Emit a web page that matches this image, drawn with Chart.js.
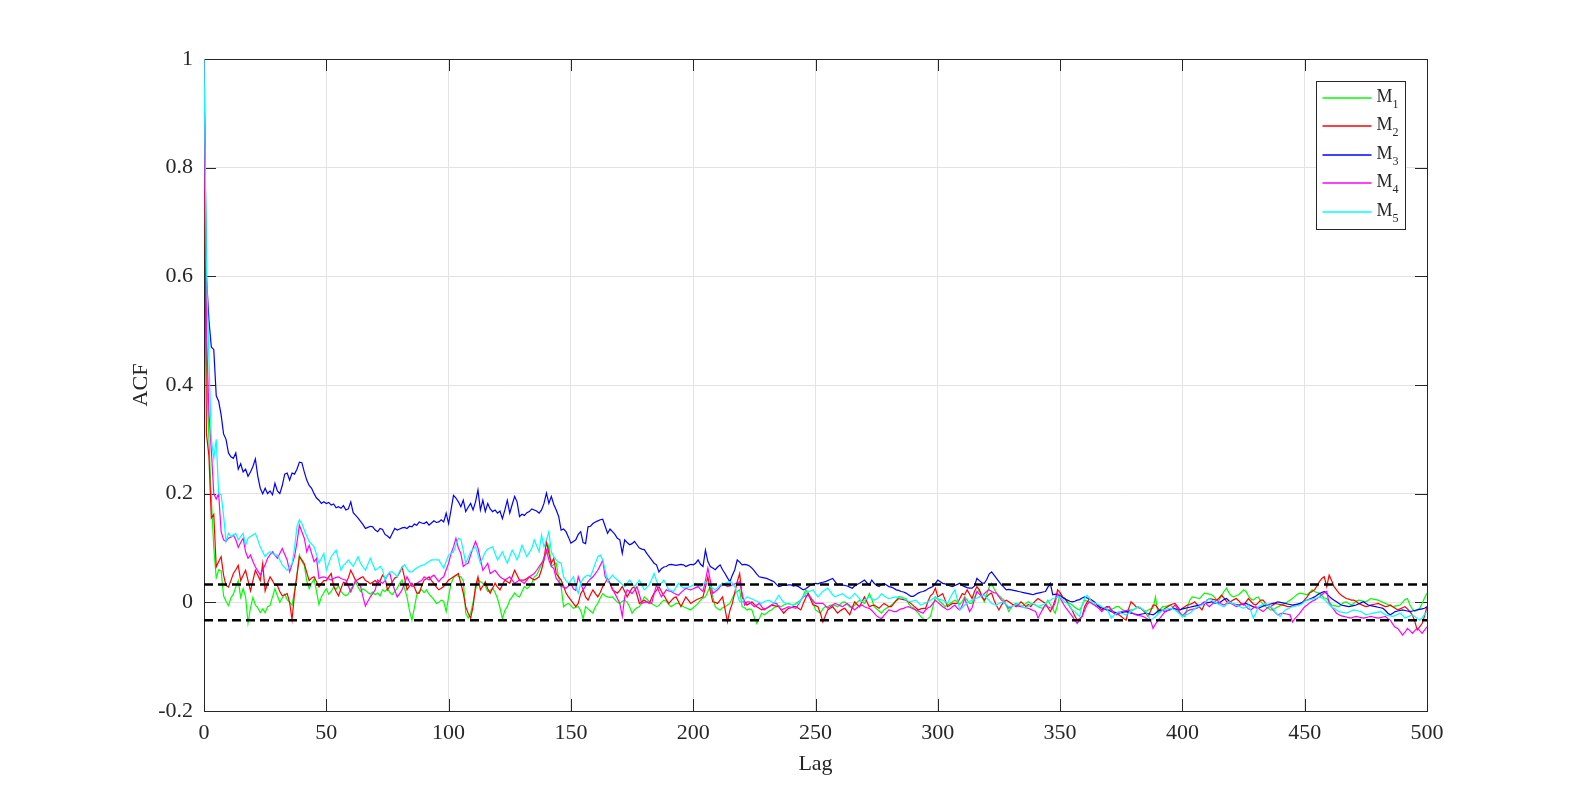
<!DOCTYPE html>
<html>
<head>
<meta charset="utf-8">
<title>ACF</title>
<script src="https://cdn.jsdelivr.net/npm/chart.js@4.4.1/dist/chart.umd.min.js"></script>
<style>
  html, body { margin: 0; padding: 0; background: #ffffff; }
  #wrap { width: 1578px; height: 800px; }
</style>
</head>
<body>
<div id="wrap"><canvas id="c" width="1578" height="800"></canvas></div>
<script>
// ---------------- data ----------------
const seriesNames = ['M1', 'M2', 'M3', 'M4', 'M5'];
const seriesColors = ['#00ff00', '#ff0000', '#0000ff', '#ff00ff', '#00ffff'];
const xTickStep = 50;
const yTickStep = 0.2;
const ciBound = 0.033;          // dashed confidence band
const ciLags = [0, 500];

// lag categories 0..500 (integer indices, not estimated values)
const lags = Array.from({ length: 501 }, (_, i) => i);

const m1 = [
1,.45,.3,.19,.1,.045,.06,.058,.012,.002,
-.006,.008,.015,.028,.04,.009,.025,.01,-.038,-.01,
.009,-.005,-.01,-.019,-.012,-.019,-.008,-.006,.01,.025,
.012,0,.008,.015,.005,0,-.005,.02,.05,.087,
.075,.068,.04,.025,.035,.043,.02,-.004,.01,.018,
.025,.015,.02,.028,.024,.031,.02,.015,.012,.015,
.025,.03,.037,.028,.02,.025,.022,.018,.015,.019,
.014,.017,.012,.023,.02,.025,.018,.014,.02,.026,
.035,.041,.025,.01,-.015,-.033,-.01,.014,.02,.023,
.018,.023,.015,.01,.005,-.002,0,.004,.002,-.017,
.01,.035,.045,.05,.048,.047,.04,-.02,-.029,-.02,
0,.023,.041,.038,.035,.03,.02,.022,.026,.018,
.007,-.01,-.03,-.015,-.008,.004,.01,.017,.012,.01,
.02,.029,.025,.029,.035,.047,.05,.06,.07,.084,
.09,.105,.066,.07,.072,.045,.029,-.008,-.004,-.002,
-.006,-.011,-.009,-.008,-.015,-.03,-.008,-.012,-.016,-.02,
-.008,-.002,.008,.016,.012,.01,.009,.01,.005,0,
-.002,.002,.004,0,-.008,-.02,-.014,-.01,-.008,0,
.01,.006,.002,-.002,-.005,-.008,-.006,0,.004,.002,
-.004,-.008,-.005,-.002,-.002,-.005,-.008,-.01,-.012,-.014,
-.01,-.006,-.002,.004,.008,.01,.02,.029,.01,-.008,
-.012,-.014,-.01,-.008,-.005,-.002,.008,.016,.02,.023,
-.008,-.01,-.014,-.012,-.014,-.028,-.039,-.03,-.02,-.023,
-.02,-.016,-.014,-.01,-.008,-.006,-.008,-.005,-.003,-.002,
-.004,-.005,-.002,.001,.004,.012,.023,.016,.01,0,
-.014,-.017,-.02,-.012,-.008,-.008,-.005,-.005,-.006,-.008,
-.004,0,.001,-.004,-.008,-.011,-.005,0,.004,.001,
-.002,.005,.016,.006,-.008,-.012,-.016,-.02,-.014,-.011,
-.008,-.005,-.002,.004,.01,.01,.008,.007,-.002,-.008,
-.01,-.015,-.02,-.026,-.03,-.035,-.03,-.026,-.008,.01,
.006,.001,-.003,-.008,-.005,-.002,.001,.004,.001,-.004,
.002,.01,.004,-.002,-.002,.01,.018,.023,.012,.001,
.015,.028,.035,.025,.017,.012,.008,.004,-.006,-.017,
-.01,-.004,-.002,-.005,-.008,-.006,-.002,.001,-.002,-.004,
-.005,-.008,-.01,-.011,-.004,.004,-.004,-.012,-.02,-.004,
.017,.01,.007,.001,-.002,-.005,-.009,-.012,-.014,-.006,
.004,.002,.001,-.002,-.005,-.008,-.008,-.01,-.011,-.012,
-.014,-.013,-.011,-.008,-.008,-.012,-.015,-.017,-.015,-.014,
-.014,-.011,-.008,-.011,-.014,-.017,-.014,-.012,-.011,.01,
-.02,-.012,-.008,-.008,-.006,-.005,-.008,-.012,-.016,-.02,
-.023,-.026,-.01,.004,.01,.009,.008,.007,.012,.017,
.016,.015,.014,.01,.004,.004,.012,.02,.026,.018,
.012,.01,.012,.014,.018,.023,.02,.012,.006,.004,
.008,.01,.002,-.004,-.008,-.011,-.014,-.014,-.011,-.008,
-.006,-.004,-.002,.001,.004,.007,.011,.015,.017,.016,
.015,.014,.018,.023,.02,.018,.017,.012,.008,.007,
.002,-.005,-.006,-.007,-.008,-.004,0,.001,-.002,-.005,
-.002,.002,.004,.003,.002,.001,.004,.007,.006,.005,
.004,.002,0,-.002,-.004,-.006,-.008,-.007,-.006,-.005,
0,.005,.007,-.005,-.012,-.017,-.014,-.011,-.002,.008,
.017];

const m2 = [
1,.31,.27,.155,.162,.065,.075,.084,.05,.031,
.028,.04,.053,.06,.068,.04,.05,.059,.04,.021,
.04,.059,.05,.04,.071,.021,.035,.047,.04,.031,
.031,.02,.012,.014,.016,0,-.032,.016,.05,.084,
.078,.071,.055,.04,.045,.047,.038,.028,.035,.04,
.04,.047,.053,.03,.02,.012,.025,.037,.035,.045,
.059,.05,.04,.042,.045,.047,.04,.038,.034,.037,
.04,.035,.04,.05,.045,.023,.03,.038,.045,.047,
.055,.065,.045,.023,.03,.035,.028,.017,.017,.03,
.041,.044,.047,.04,.035,.028,.023,.026,.029,.035,
.041,.044,.047,.05,.053,.035,.017,-.008,-.02,-.029,
-.008,.029,.047,.023,.03,.038,.025,.017,.026,.035,
.028,.023,.032,.041,.038,.035,.047,.059,.05,.041,
.041,.041,.044,.047,.044,.041,.044,.047,.06,.078,
.112,.09,.072,.081,.053,.047,.041,.03,.017,.01,
.004,-.002,-.008,-.002,.016,.023,.01,.004,.014,.023,
.016,.01,.018,.029,.036,.044,.035,.023,.02,.017,
.022,.029,.02,.01,.018,.026,.029,.014,-.002,.001,
.004,.001,-.002,.008,.017,.022,.029,.02,.013,.005,
-.002,.003,.008,.01,.001,-.008,.001,.01,.004,-.002,
.001,.004,.006,.008,.01,.028,.047,.02,.001,0,
-.002,.004,.01,-.012,-.036,-.015,-.002,.018,.038,.053,
.01,.002,-.005,-.002,.001,-.004,-.008,-.011,-.014,-.012,
-.011,-.008,-.005,-.006,-.007,-.008,-.014,-.02,-.015,-.011,
-.01,-.008,-.008,-.011,-.014,-.002,.008,.017,.005,-.005,
-.006,-.008,-.02,-.036,-.025,-.014,-.011,-.008,-.014,-.02,
-.016,-.013,-.011,-.017,-.023,-.01,.001,-.004,-.008,.001,
.01,.001,-.008,-.006,-.005,-.008,-.011,-.006,-.002,-.005,
-.008,-.008,-.002,.003,.007,.006,.005,.004,.001,-.002,
-.006,-.01,-.014,-.012,-.011,-.011,.002,.012,.016,.026,
.01,.013,.016,.004,-.008,-.005,-.002,-.002,-.002,.007,
.016,.014,.023,.015,.007,.02,.029,.023,.01,.004,
.01,.015,.017,.004,-.006,-.014,-.005,.001,.004,.001,
-.002,-.005,-.008,-.004,.001,-.003,-.008,-.004,-.008,-.002,
.003,.007,.004,.001,-.002,-.01,-.017,-.008,.005,.023,
.018,.01,.007,-.001,-.008,-.015,-.025,-.033,-.03,-.026,
-.008,0,.007,.004,.001,-.004,-.009,-.014,-.011,-.008,
-.008,-.014,-.02,-.02,-.023,-.026,-.03,-.033,-.012,.001,
-.003,-.008,-.01,-.011,-.015,-.02,-.026,-.016,-.005,-.005,
-.011,-.017,-.014,-.011,-.008,-.005,-.003,-.002,-.008,-.014,
-.011,-.008,-.005,-.004,-.002,.001,-.004,-.009,-.014,-.004,
.004,.007,.006,.005,.004,.008,.013,.008,.002,-.002,
.002,.005,.007,.003,-.002,-.005,.001,.007,.002,-.003,
-.005,-.001,.004,.004,-.002,-.006,-.008,-.005,-.002,-.003,
-.004,-.005,-.006,-.008,-.008,-.007,-.005,-.004,-.003,-.002,
.005,.01,.017,.02,.023,.03,.038,.044,.047,.029,
.05,.04,.029,.023,.017,.013,.01,.007,.006,.004,
.004,.002,-.002,-.004,-.006,-.008,-.007,-.005,-.004,-.003,
-.002,-.004,-.006,-.008,-.007,-.005,-.008,-.011,-.014,-.012,
-.01,-.008,-.012,-.017,-.023,-.035,-.051,-.045,-.039,-.025,
-.008];

const m3 = [
1,.6,.52,.47,.465,.38,.37,.345,.31,.3,
.275,.268,.265,.275,.245,.255,.24,.245,.232,.24,
.25,.264,.232,.21,.2,.21,.2,.205,.198,.219,
.205,.2,.215,.236,.238,.225,.238,.236,.245,.258,
.257,.24,.225,.215,.21,.2,.192,.188,.182,.185,
.182,.184,.179,.181,.174,.176,.173,.178,.17,.172,
.185,.165,.16,.155,.149,.143,.136,.138,.14,.139,
.133,.13,.136,.134,.125,.122,.118,.127,.136,.133,
.135,.137,.138,.136,.14,.139,.144,.142,.148,.146,
.145,.148,.142,.146,.15,.147,.148,.152,.148,.164,
.145,.17,.197,.192,.185,.176,.188,.167,.175,.182,
.17,.185,.207,.17,.188,.167,.182,.172,.167,.17,
.164,.168,.154,.17,.188,.164,.18,.195,.185,.158,
.162,.16,.165,.167,.172,.17,.168,.164,.17,.182,
.201,.182,.195,.18,.17,.158,.133,.135,.13,.12,
.109,.112,.115,.125,.13,.11,.108,.139,.14,.145,
.148,.15,.152,.153,.14,.127,.135,.13,.125,.118,
.115,.09,.115,.11,.106,.108,.112,.106,.1,.098,
.097,.09,.084,.078,.072,.069,.056,.062,.065,.066,
.069,.07,.069,.068,.069,.07,.069,.066,.068,.07,
.069,.072,.078,.07,.066,.096,.075,.066,.063,.06,
.065,.069,.06,.053,.045,.038,.05,.06,.078,.074,
.069,.07,.069,.067,.063,.058,.052,.047,.046,.045,
.044,.042,.04,.038,.033,.029,.03,.032,.031,.032,
.032,.03,.031,.029,.026,.023,.025,.028,.032,.033,
.035,.034,.036,.037,.038,.04,.042,.044,.038,.032,
.033,.032,.031,.03,.028,.026,.03,.033,.035,.038,
.041,.036,.032,.041,.035,.031,.029,.033,.035,.032,
.029,.028,.026,.023,.022,.02,.019,.017,.014,.011,
.011,.014,.017,.019,.02,.022,.025,.027,.029,.035,
.041,.038,.035,.034,.032,.03,.029,.031,.033,.035,
.031,.029,.027,.026,.026,.03,.044,.04,.036,.035,
.042,.052,.056,.05,.044,.038,.032,.028,.023,.024,
.023,.022,.021,.02,.019,.018,.017,.016,.015,.014,
.016,.017,.018,.019,.02,.028,.035,.014,.015,.014,
.012,.009,.006,.004,.002,.001,.002,.004,.005,.008,
.01,.008,.006,.004,0,-.004,-.008,-.01,-.012,-.014,
-.015,-.017,-.018,-.019,-.02,-.019,-.018,-.017,-.018,-.02,
-.021,-.022,-.023,-.022,-.021,-.02,-.021,-.022,-.023,-.02,
-.016,-.014,-.015,-.017,-.015,-.013,-.011,-.012,-.013,-.014,
-.012,-.011,-.01,-.009,-.008,-.007,-.006,-.005,-.004,-.002,
-.001,0,.001,-.001,-.002,-.001,.002,.005,.007,.003,
-.002,-.003,-.004,-.005,-.004,-.003,-.002,-.004,-.006,-.008,
-.01,-.011,-.009,-.007,-.005,-.004,-.003,-.002,-.001,.001,
0,-.001,-.002,-.003,-.004,-.005,-.004,-.003,-.002,0,
.003,.004,.006,.008,.01,.013,.016,.018,.02,.016,
.011,.007,.004,.001,-.002,-.005,-.006,-.007,-.008,-.007,
-.006,-.005,-.003,-.001,.001,-.002,-.005,-.006,-.007,-.008,
-.009,-.01,-.011,-.015,-.02,-.023,-.02,-.017,-.016,-.015,
-.014,-.015,-.016,-.017,-.016,-.015,-.014,-.013,-.012,-.011,
-.008];

const m4 = [
1,.5,.35,.28,.2,.19,.2,.13,.115,.112,
.118,.12,.124,.115,.101,.11,.118,.093,.081,.087,
.075,.065,.058,.05,.06,.069,.081,.088,.093,.087,
.081,.09,.099,.088,.078,.056,.07,.084,.11,.142,
.13,.118,.093,.105,.09,.075,.081,.044,.046,.047,
.045,.043,.041,.044,.046,.047,.044,.042,.041,.03,
.019,.03,.041,.035,.029,.01,-.007,.002,.01,.016,
.023,.041,.038,.035,.04,.05,.053,.035,.022,.01,
.016,.023,.035,.047,.038,.029,.032,.035,.038,.04,
.047,.044,.041,.047,.05,.044,.038,.044,.047,.06,
.072,.09,.102,.118,.1,.09,.066,.07,.072,.087,
.1,.112,.1,.08,.059,.065,.072,.053,.056,.059,
.053,.047,.044,.041,.044,.047,.041,.035,.038,.041,
.038,.035,.041,.047,.05,.053,.059,.066,.072,.078,
.096,.078,.066,.062,.044,.038,.029,.028,.026,.03,
.035,.025,.022,.047,.035,.023,.03,.038,.043,.047,
.053,.059,.068,.078,.047,.04,.035,.025,.016,.007,
-.002,-.026,.01,.023,.02,.016,.022,.029,.014,-.002,
0,.001,0,-.002,.015,.032,.02,.01,.016,.023,
.021,.02,.017,.015,.013,.018,.022,.026,.024,.023,
.025,.027,.029,.024,.02,.04,.063,.04,.016,.02,
.023,.029,.035,.032,.029,.03,.032,.034,.036,.038,
.016,-.005,.001,.001,-.004,-.008,-.005,-.002,-.008,-.014,
-.011,-.008,-.005,-.002,-.002,-.008,-.014,-.012,-.01,-.008,
-.009,-.01,-.011,-.004,.004,.01,.012,.013,.008,.003,
-.002,-.002,-.002,-.002,-.006,-.011,-.008,-.005,-.002,-.004,
-.006,-.008,-.005,-.002,-.006,-.01,-.014,-.01,-.007,-.005,
-.008,-.01,-.011,-.015,-.02,-.025,-.028,-.03,-.024,-.019,
-.014,-.015,-.017,-.017,-.014,-.012,-.011,-.009,-.008,-.01,
-.012,-.014,-.016,-.018,-.02,-.014,-.01,-.008,-.002,.004,
0,-.004,-.008,-.011,-.014,-.012,-.008,-.005,-.011,-.014,
-.006,.007,-.005,-.017,-.01,.005,.02,.015,.01,.016,
.02,.023,.02,.018,.017,.01,.004,.001,-.005,-.011,
-.008,-.005,-.006,-.007,-.008,-.009,-.01,-.011,-.013,-.015,
-.017,-.029,-.02,-.012,-.005,-.008,-.01,-.011,0,.017,
.008,0,-.008,-.014,-.02,-.026,-.033,-.039,-.032,-.026,
-.015,-.004,.001,-.002,-.005,-.008,-.012,-.017,-.013,-.01,
-.008,-.015,-.02,-.023,-.02,-.017,-.016,-.015,-.014,-.018,
-.021,-.023,-.024,-.025,-.026,-.029,-.031,-.033,-.048,-.04,
-.033,-.028,-.022,-.017,-.015,-.014,-.01,-.005,-.012,-.019,
-.026,-.02,-.016,-.014,-.013,-.012,-.011,-.007,-.002,.001,
-.004,-.008,-.004,0,.004,0,-.003,-.005,-.002,.001,
-.002,-.005,-.008,-.006,-.004,-.002,-.008,-.012,-.014,-.01,
-.008,-.011,-.014,-.017,-.013,-.009,-.008,-.014,-.019,-.023,
-.021,-.02,-.021,-.022,-.023,-.036,-.03,-.025,-.02,-.014,
-.008,-.005,-.001,.002,.004,.007,.01,.014,.018,.02,
-.002,-.008,-.014,-.02,-.023,-.025,-.026,-.027,-.028,-.029,
-.027,-.026,-.027,-.028,-.029,-.028,-.027,-.026,-.027,-.028,
-.029,-.028,-.027,-.026,-.03,-.033,-.04,-.046,-.048,-.054,
-.06,-.055,-.048,-.052,-.057,-.052,-.048,-.052,-.057,-.051,
-.045];

const m5 = [
1,.62,.45,.3,.265,.3,.2,.198,.16,.112,
.127,.121,.124,.127,.115,.121,.127,.105,.118,.121,
.124,.127,.115,.102,.093,.084,.09,.093,.09,.087,
.087,.078,.069,.064,.059,.066,.07,.1,.139,.152,
.145,.133,.122,.112,.107,.102,.088,.072,.081,.09,
.059,.072,.084,.09,.096,.078,.059,.068,.072,.078,
.072,.066,.075,.084,.072,.065,.059,.07,.081,.07,
.059,.062,.066,.06,.041,.05,.056,.056,.052,.047,
.058,.064,.069,.062,.056,.056,.06,.063,.066,.068,
.069,.072,.075,.078,.078,.078,.078,.07,.063,.075,
.087,.09,.093,.105,.118,.116,.095,.072,.082,.093,
.098,.102,.088,.072,.082,.093,.098,.1,.102,.09,
.078,.085,.093,.082,.072,.084,.096,.088,.078,.09,
.105,.095,.084,.092,.099,.115,.104,.093,.124,.102,
.115,.13,.093,.084,.078,.074,.072,.047,.04,.035,
.04,.047,.03,.017,.035,.044,.048,.05,.047,.059,
.072,.084,.087,.078,.06,.038,.044,.05,.045,.041,
.037,.033,.029,.035,.041,.035,.029,.035,.041,.032,
.023,.027,.032,.042,.053,.04,.029,.035,.041,.032,
.023,.022,.02,.028,.035,.03,.026,.027,.028,.029,
.032,.035,.032,.029,.033,.038,.034,.029,.026,.023,
.027,.032,.034,.035,.037,.038,.035,.029,.015,.001,
.001,.006,.01,.008,.006,.004,.002,0,-.002,.001,
.003,.004,.001,-.002,.006,.013,.006,0,-.002,-.003,
-.004,-.005,-.003,-.002,.004,.01,.016,.019,.021,.023,
.016,.01,.015,.02,.023,.026,.02,.014,.01,.012,
.014,.016,.012,.009,.007,.011,.016,.012,.007,.001,
.004,.007,.01,.007,.004,.006,.01,.016,.012,.009,
.007,.008,.009,.01,.009,.008,.007,.005,.002,.001,
.003,.004,0,-.005,-.003,-.001,.001,.004,.007,.01,
.007,.005,.004,.001,-.002,.008,.016,.023,.005,-.014,
-.01,-.005,-.001,.002,.004,.006,.008,.01,.012,.013,
.008,.003,-.002,-.004,-.005,-.002,0,.001,-.004,-.008,
-.008,-.006,-.004,-.002,-.006,-.009,-.011,-.007,-.003,-.002,
-.005,-.008,-.006,-.004,-.002,.001,.004,.007,.008,.009,
.01,.005,0,-.002,-.008,-.014,-.017,-.022,-.026,-.005,
.008,.013,.007,.001,-.001,-.003,-.005,-.008,-.01,-.011,
-.02,-.029,-.024,-.02,-.017,-.02,-.022,-.023,-.02,-.017,
-.014,-.011,-.008,-.011,-.014,-.017,-.025,-.033,-.03,-.026,
-.022,-.018,-.014,-.013,-.012,-.011,-.012,-.014,-.018,-.022,
-.026,-.024,-.022,-.02,-.016,-.012,-.008,-.007,-.005,-.002,
.003,.007,.004,.001,-.002,-.004,-.006,-.008,-.004,.001,
-.001,-.003,-.005,-.007,-.009,-.011,-.008,-.005,-.016,-.029,
-.02,-.008,-.006,-.004,-.002,-.005,-.008,-.011,-.018,-.023,
-.026,-.02,-.014,-.012,-.01,-.008,-.007,-.006,-.005,-.002,
.002,.004,.005,.006,.007,.008,.01,.008,.005,.001,
-.004,-.009,-.011,-.014,-.017,-.018,-.019,-.02,-.018,-.016,
-.014,-.015,-.016,-.017,-.02,-.023,-.022,-.021,-.02,-.019,
-.018,-.017,-.02,-.023,-.024,-.025,-.026,-.024,-.022,-.02,
-.024,-.029,-.027,-.025,-.023,-.026,-.03,-.033,-.028,-.022,
-.017];

const seriesValues = [m1, m2, m3, m4, m5];

// ---------------- styling helpers ----------------
const FONT = "'Liberation Serif', 'Times New Roman', Times, serif";
const AXIS_COLOR = '#262626';

Chart.defaults.font.family = FONT;
Chart.defaults.font.size = 22;
Chart.defaults.color = AXIS_COLOR;

// tick label formatter: "1", "0.8", "0", "-0.2" (no float noise, no "-0")
const fmtTick = v => String(Math.round(v * 10) / 10 + 0);

// MATLAB-like box with inward ticks on all four sides
const boxPlugin = {
  id: 'matlabBox',
  beforeDatasetsDraw(chart) {
    const { ctx, chartArea: a, scales: { x, y } } = chart;
    const tl = 12;
    ctx.save();
    ctx.strokeStyle = AXIS_COLOR;
    ctx.lineWidth = 1;
    ctx.beginPath();
    x.ticks.forEach(t => {
      const px = Math.round(x.getPixelForValue(t.value)) + 0.5;
      ctx.moveTo(px, a.bottom); ctx.lineTo(px, a.bottom - tl);
      ctx.moveTo(px, a.top); ctx.lineTo(px, a.top + tl);
    });
    y.ticks.forEach(t => {
      const py = Math.round(y.getPixelForValue(t.value)) + 0.5;
      ctx.moveTo(a.left, py); ctx.lineTo(a.left + tl, py);
      ctx.moveTo(a.right, py); ctx.lineTo(a.right - tl, py);
    });
    ctx.stroke();
    ctx.strokeRect(Math.round(a.left) + 0.5, Math.round(a.top) + 0.5,
                   Math.round(a.right - a.left), Math.round(a.bottom - a.top));
    ctx.restore();
  }
};

// Legend box (top-right, inside the axes) with subscripted names
const legendPlugin = {
  id: 'matlabLegend',
  afterDatasetsDraw(chart) {
    const { ctx, chartArea: a } = chart;
    const w = 89, h = 148;
    const bx = Math.round(a.right - 22 - w) + 0.5;
    const by = Math.round(a.top + 22) + 0.5;
    ctx.save();
    ctx.fillStyle = '#ffffff';
    ctx.fillRect(bx, by, w, h);
    ctx.strokeStyle = AXIS_COLOR;
    ctx.lineWidth = 1;
    ctx.strokeRect(bx, by, w, h);
    const items = chart.data.datasets.filter(d => d.inLegend);
    items.forEach((d, i) => {
      const ry = Math.round(by + 16.5 + i * 28.4);
      ctx.strokeStyle = d.borderColor;
      ctx.lineWidth = 1.3;
      ctx.beginPath();
      ctx.moveTo(bx + 6, ry); ctx.lineTo(bx + 55, ry);
      ctx.stroke();
      ctx.fillStyle = AXIS_COLOR;
      ctx.textBaseline = 'alphabetic';
      ctx.textAlign = 'left';
      const base = d.label.charAt(0), sub = d.label.slice(1);
      ctx.font = '18px ' + FONT;
      ctx.fillText(base, bx + 60, ry + 4);
      const mw = ctx.measureText(base).width;
      ctx.font = '12px ' + FONT;
      ctx.fillText(sub, bx + 60 + mw, ry + 10);
    });
    ctx.restore();
  }
};

const datasets = seriesNames.map((name, i) => ({
  label: name,
  data: seriesValues[i],
  borderColor: seriesColors[i],
  backgroundColor: seriesColors[i],
  borderWidth: 1.2,
  pointRadius: 0,
  tension: 0,
  fill: false,
  inLegend: true,
  order: seriesNames.length - i
}));

[ciBound, -ciBound].forEach(b => {
  datasets.push({
    label: 'bound',
    data: ciLags.map(l => ({ x: l, y: b })),
    borderColor: '#000000',
    borderWidth: 2.5,
    borderDash: [9, 5],
    pointRadius: 0,
    fill: false,
    inLegend: false,
    order: 0
  });
});

new Chart(document.getElementById('c'), {
  type: 'line',
  data: { labels: lags, datasets },
  options: {
    responsive: false,
    animation: false,
    devicePixelRatio: 1,
    layout: { padding: { left: 118, right: 151, top: 59, bottom: 10 } },
    plugins: {
      legend: { display: false },
      tooltip: { enabled: false }
    },
    scales: {
      x: {
        type: 'linear',
        min: 0, max: 500,
        afterFit: s => { s.height = 79; },
        ticks: { stepSize: xTickStep, padding: 9, color: AXIS_COLOR, font: { size: 22 }, maxRotation: 0, callback: fmtTick },
        grid: { color: '#e3e3e3', lineWidth: 1, drawTicks: false },
        border: { display: false },
        title: { display: true, text: 'Lag', color: AXIS_COLOR, font: { size: 22 }, padding: { top: 0, bottom: 13 } }
      },
      y: {
        type: 'linear',
        min: -0.2, max: 1,
        afterFit: s => { s.width = 86; },
        ticks: { stepSize: yTickStep, padding: 11, color: AXIS_COLOR, font: { size: 22 }, callback: fmtTick },
        grid: { color: '#e3e3e3', lineWidth: 1, drawTicks: false },
        border: { display: false },
        title: { display: true, text: 'ACF', color: AXIS_COLOR, font: { size: 22 }, padding: { top: 10, bottom: 0 } }
      }
    }
  },
  plugins: [boxPlugin, legendPlugin]
});
</script>
</body>
</html>
